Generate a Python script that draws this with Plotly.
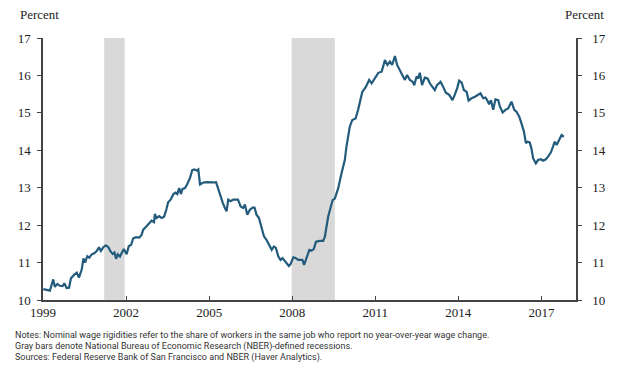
import plotly.graph_objects as go

# Decimal-year dates and share of workers with no wage change (percent)
years = [
    1999.01, 1999.19, 1999.25, 1999.31, 1999.37, 1999.43, 1999.52, 1999.61, 1999.71, 1999.77, 1999.85, 1999.94,
    2000.01, 2000.12, 2000.22, 2000.30, 2000.40, 2000.46, 2000.52, 2000.60, 2000.67, 2000.76, 2000.85, 2000.94,
    2001.02, 2001.09, 2001.18, 2001.27, 2001.36, 2001.44, 2001.52, 2001.58, 2001.64, 2001.70, 2001.78, 2001.84, 2001.92,
    2002.02, 2002.10, 2002.18, 2002.26, 2002.36, 2002.48, 2002.56, 2002.62, 2002.74, 2002.86, 2002.92,
    2003.01, 2003.04, 2003.10, 2003.20, 2003.28, 2003.37, 2003.46, 2003.52, 2003.61, 2003.71, 2003.79, 2003.85, 2003.92, 2003.98,
    2004.04, 2004.13, 2004.21, 2004.31, 2004.39, 2004.46, 2004.55, 2004.61, 2004.67, 2004.79, 2004.91,
    2005.03, 2005.15, 2005.25, 2005.33, 2005.41, 2005.49, 2005.57, 2005.63, 2005.69, 2005.77, 2005.87, 2005.97,
    2006.04, 2006.14, 2006.23, 2006.29, 2006.38, 2006.47, 2006.57, 2006.64, 2006.71, 2006.80, 2006.89, 2006.98,
    2007.07, 2007.17, 2007.26, 2007.34, 2007.41, 2007.50, 2007.58, 2007.65, 2007.74, 2007.82, 2007.88, 2007.94,
    2008.04, 2008.12, 2008.22, 2008.31, 2008.37, 2008.43, 2008.52, 2008.62, 2008.70, 2008.78, 2008.86, 2008.94,
    2009.00, 2009.12, 2009.18, 2009.30, 2009.46, 2009.54, 2009.66, 2009.78, 2009.90, 2009.96,
    2010.08, 2010.17, 2010.29, 2010.38, 2010.53, 2010.65, 2010.78, 2010.87, 2010.99,
    2011.11, 2011.23, 2011.35, 2011.44, 2011.53, 2011.61, 2011.71, 2011.79, 2011.89, 2011.99,
    2012.07, 2012.15, 2012.25, 2012.35, 2012.41, 2012.49, 2012.55, 2012.61, 2012.69, 2012.79, 2012.89, 2012.97,
    2013.07, 2013.15, 2013.23, 2013.36, 2013.45, 2013.55, 2013.67, 2013.79, 2013.87, 2013.96,
    2014.03, 2014.12, 2014.20, 2014.30, 2014.37, 2014.48, 2014.60, 2014.72, 2014.80, 2014.90, 2014.98,
    2015.04, 2015.11, 2015.18, 2015.26, 2015.34, 2015.44, 2015.50, 2015.60, 2015.70, 2015.80, 2015.92,
    2016.02, 2016.10, 2016.20, 2016.28, 2016.37, 2016.44, 2016.50, 2016.58, 2016.64, 2016.70, 2016.76, 2016.80, 2016.88, 2016.98,
    2017.06, 2017.16, 2017.24, 2017.34, 2017.42, 2017.48, 2017.55, 2017.64, 2017.73, 2017.81,
]
values = [
    10.29, 10.27, 10.25, 10.40, 10.55, 10.35, 10.43, 10.38, 10.37, 10.45, 10.32, 10.33,
    10.58, 10.67, 10.73, 10.60, 10.82, 11.11, 11.00, 11.17, 11.13, 11.22, 11.25, 11.31,
    11.41, 11.31, 11.41, 11.46, 11.41, 11.30, 11.23, 11.27, 11.10, 11.22, 11.16, 11.25, 11.36,
    11.22, 11.44, 11.47, 11.65, 11.68, 11.67, 11.74, 11.88, 11.97, 12.06, 12.12,
    12.08, 12.30, 12.19, 12.24, 12.19, 12.22, 12.43, 12.61, 12.68, 12.83, 12.87, 12.83, 12.99, 12.83,
    12.97, 12.99, 13.10, 13.26, 13.47, 13.49, 13.46, 13.49, 13.09, 13.14, 13.15,
    13.14, 13.14, 13.15, 12.95, 12.82, 12.60, 12.46, 12.37, 12.68, 12.64, 12.68, 12.68,
    12.68, 12.50, 12.46, 12.55, 12.28, 12.41, 12.47, 12.47, 12.28, 12.19, 11.97, 11.70,
    11.61, 11.45, 11.34, 11.43, 11.39, 11.16, 11.07, 11.12, 11.03, 10.94, 10.91, 10.96,
    11.14, 11.12, 11.07, 11.07, 11.07, 10.94, 11.12, 11.34, 11.32, 11.36, 11.56, 11.58,
    11.58, 11.58, 11.69, 12.23, 12.67, 12.71, 12.98, 13.38, 13.74, 14.10,
    14.63, 14.81, 14.85, 15.08, 15.56, 15.68, 15.88, 15.79, 15.92,
    16.07, 16.10, 16.41, 16.28, 16.37, 16.28, 16.52, 16.28, 16.14, 15.97,
    15.88, 16.01, 15.88, 15.83, 15.74, 15.97, 15.92, 16.07, 15.74, 15.94, 15.92, 15.79,
    15.68, 15.61, 15.74, 15.83, 15.70, 15.54, 15.48, 15.34, 15.48, 15.66,
    15.86, 15.81, 15.61, 15.56, 15.33, 15.39, 15.43, 15.48, 15.52, 15.39, 15.41,
    15.34, 15.23, 15.34, 15.08, 15.36, 15.34, 15.17, 15.01, 15.08, 15.12, 15.30,
    15.08, 15.03, 14.90, 14.72, 14.50, 14.19, 14.23, 14.21, 14.05, 13.79, 13.70, 13.65, 13.74, 13.76,
    13.72, 13.76, 13.83, 13.94, 14.10, 14.23, 14.14, 14.27, 14.41, 14.36,
]

recession_start = [2001.21, 2007.98]
recession_end = [2001.95, 2009.54]

x_ticks = [1999, 2002, 2005, 2008, 2011, 2014, 2017]
y_ticks = [10, 11, 12, 13, 14, 15, 16, 17]

notes = [
    "Notes: Nominal wage rigidities refer to the share of workers in the same job who report no year-over-year wage change.",
    "Gray bars denote National Bureau of Economic Research (NBER)-defined recessions.",
    "Sources: Federal Reserve Bank of San Francisco and NBER (Haver Analytics).",
]

SERIF = "Liberation Serif, Times New Roman, serif"
SANS = "Roboto, Liberation Sans, sans-serif"
AX = "#444444"
TXT = "#222222"

fig = go.Figure()
fig.add_trace(go.Scatter(x=years, y=values, mode="lines",
                         line=dict(color="#225b7c", width=2.2), hoverinfo="skip",
                         showlegend=False))
fig.add_trace(go.Scatter(x=years, y=values, mode="lines", yaxis="y2",
                         line=dict(color="rgba(0,0,0,0)", width=0), hoverinfo="skip",
                         showlegend=False))

for s, e in zip(recession_start, recession_end):
    fig.add_shape(type="rect", xref="x", yref="paper", x0=s, x1=e, y0=0, y1=1,
                  fillcolor="#d9d9d9", line=dict(width=0), layer="below")

axis_font = dict(family=SERIF, size=13, color=TXT)
# The page body keeps the browser's 8px default margin, so the figure is
# sized 8px smaller and its margins reduced to land the plot where it belongs.
fig.update_layout(
    template="none",
    width=632, height=363,
    margin=dict(l=35, r=64, t=30, b=71, autoexpand=False),
    plot_bgcolor="white", paper_bgcolor="white",
    xaxis=dict(range=[1999, 2018.25], tickvals=x_ticks, ticktext=[str(t) for t in x_ticks],
               showgrid=False, zeroline=False, showline=True, linecolor=AX, linewidth=1.5,
               ticks="inside", ticklen=4, tickcolor=AX, tickfont=axis_font,
               automargin=False, ticklabelstandoff=0),
    yaxis=dict(range=[10, 17], tickvals=y_ticks, showgrid=False, zeroline=False,
               showline=True, linecolor=AX, linewidth=1.5, ticks="outside", ticklen=4,
               tickcolor=AX, tickfont=axis_font, automargin=False, ticklabelstandoff=4),
    yaxis2=dict(range=[10, 17], tickvals=y_ticks, overlaying="y", side="right",
                showgrid=False, zeroline=False, showline=True, linecolor=AX, linewidth=1.5,
                ticks="outside", ticklen=4, tickcolor=AX, tickfont=axis_font,
                automargin=False, ticklabelstandoff=8),
)

fig.add_annotation(text="Percent", xref="paper", yref="paper", x=-0.0469, y=1.0916,
                   xanchor="left", yanchor="middle", showarrow=False,
                   font=dict(family=SERIF, size=13, color=TXT))
fig.add_annotation(text="Percent", xref="paper", yref="paper", x=0.9756, y=1.0916,
                   xanchor="left", yanchor="middle", showarrow=False,
                   font=dict(family=SERIF, size=13, color=TXT))

note_y_px = [335, 346.7, 357.7]
for txt, ypx in zip(notes, note_y_px):
    fig.add_annotation(text=txt, xref="paper", yref="paper",
                       x=(13 - 43) / 533, y=(300 - ypx) / 262,
                       xanchor="left", yanchor="middle", showarrow=False,
                       font=dict(family=SANS, size=9.0, color="#333333"))

fig.write_html("out.html")
